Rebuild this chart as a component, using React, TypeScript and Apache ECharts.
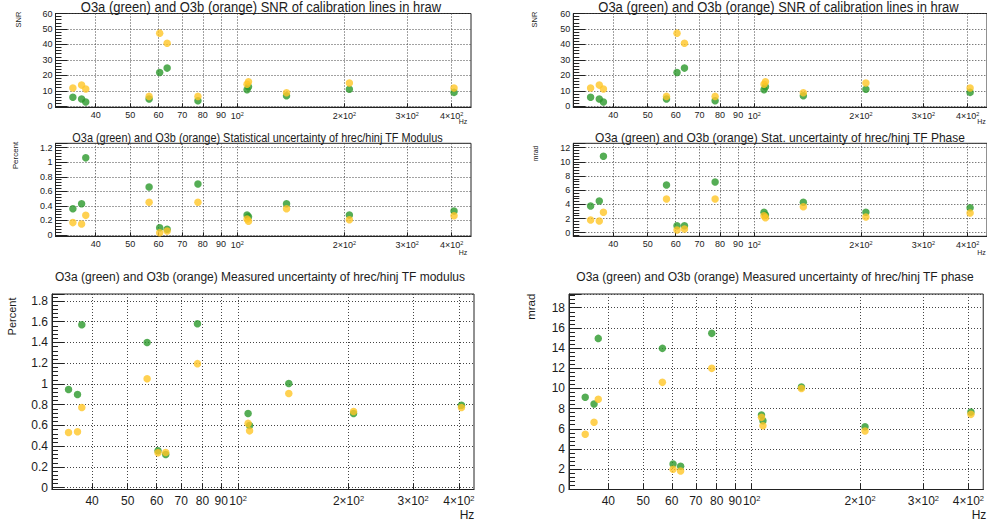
import React, { useEffect, useRef } from 'react';
import * as echarts from 'echarts';

// Calibration line frequencies (Hz)
const freqs = [34.5, 36.5, 37.5, 56.5, 60.5, 63.5, 77.5, 106.5, 107.5, 137.5, 206.5, 406.5];

// SNR of calibration lines in hraw
const snrO3a = [5.8, 4.7, 2.8, 4.7, 21.9, 24.7, 3.6, 10.7, 12.6, 6.8, 11.0, 9.0];
const snrO3b = [11.8, 13.7, 11.2, 6.4, 47.3, 40.8, 6.4, 14.2, 15.9, 8.8, 15.0, 11.8];

// Statistical uncertainty of hrec/hinj TF modulus (Percent)
const statModO3a = [0.36, 0.43, 1.06, 0.66, 0.1, 0.08, 0.7, 0.275, 0.25, 0.43, 0.275, 0.33];
const statModO3b = [0.17, 0.15, 0.27, 0.45, 0.03, 0.055, 0.45, 0.22, 0.19, 0.36, 0.21, 0.265];

// Stat. uncertainty of hrec/hinj TF phase (mrad)
const statPhaseO3a = [3.77, 4.48, 10.8, 6.73, 0.99, 0.99, 7.16, 2.88, 2.5, 4.29, 2.88, 3.53];
const statPhaseO3b = [1.8, 1.65, 2.88, 4.76, 0.38, 0.52, 4.76, 2.4, 2.12, 3.67, 2.22, 2.78];

// Measured uncertainty of hrec/hinj TF modulus (Percent)
const measModO3a = [0.946, 0.898, 1.57, 1.4, 0.356, 0.32, 1.58, 0.715, 0.6, 1.004, 0.715, 0.795];
const measModO3b = [0.533, 0.54, 0.773, 1.05, 0.337, 0.34, 1.196, 0.62, 0.548, 0.908, 0.735, 0.773];

// Measured uncertainty of hrec/hinj TF phase (mrad)
const measPhaseO3a = [9.12, 8.45, 14.96, 13.97, 2.51, 2.28, 15.46, 7.36, 6.8, 10.14, 6.2, 7.66];
const measPhaseO3b = [5.45, 6.64, 8.92, 10.6, 1.98, 1.81, 11.99, 7.13, 6.3, 10.0, 5.78, 7.43];

// x tick values (log axis)
const xTickValues = [40, 50, 60, 70, 80, 90, 100, 200, 300, 400];

const titles = [
  'O3a (green) and O3b (orange) SNR of calibration lines in hraw',
  'O3a (green) and O3b (orange) SNR of calibration lines in hraw',
  'O3a (green) and O3b (orange) Statistical uncertainty of hrec/hinj TF Modulus',
  'O3a (green) and O3b (orange) Stat. uncertainty of hrec/hinj TF Phase',
  'O3a (green) and O3b (orange) Measured uncertainty of hrec/hinj TF modulus',
  'O3a (green) and O3b (orange) Measured uncertainty of hrec/hinj TF phase',
];
const yNames = ['SNR', 'SNR', 'Percent', 'mrad', 'Percent', 'mrad'];

const GREEN = '#2b982b';
const ORANGE = '#ffc526';
const FONT = "'Liberation Sans', Arial, Helvetica, sans-serif";
const INK = '#1c1c1c';

type Panel = {
  left: number; top: number; width: number; height: number;
  xMin: number; xMax: number; yMin: number; yMax: number; split: number; showMax: boolean;
  big: boolean; g: number[]; o: number[];
  titleX: number; titleY: number; titleSize: number; titleScaleY: number;
  nameX: number; nameY: number; nameSize: number;
  hzX: number; hzY: number;
};

const panels: Panel[] = [
  { left: 55.5, top: 13.5, width: 415.5, height: 93.8, xMin: 30.83, xMax: 453.7, yMin: -0.65, yMax: 60, split: 6, showMax: true, big: false, g: snrO3a, o: snrO3b,
    titleX: 261, titleY: 7.5, titleSize: 13, titleScaleY: 1.12, nameX: 18, nameY: 19.5, nameSize: 7.5, hzX: 463, hzY: 121.7 },
  { left: 573.3, top: 13.5, width: 415.5, height: 93.8, xMin: 30.83, xMax: 453.7, yMin: -0.65, yMax: 60, split: 6, showMax: true, big: false, g: snrO3a, o: snrO3b,
    titleX: 778.5, titleY: 7.5, titleSize: 13, titleScaleY: 1.12, nameX: 534.5, nameY: 19.5, nameSize: 7.5, hzX: 981.5, hzY: 121.5 },
  { left: 55.5, top: 143.3, width: 415.5, height: 93, xMin: 30.83, xMax: 453.7, yMin: -0.018, yMax: 1.26, split: 6, showMax: false, big: false, g: statModO3a, o: statModO3b,
    titleX: 257.5, titleY: 137.5, titleSize: 10.9, titleScaleY: 1.25, nameX: 15.7, nameY: 155.5, nameSize: 8, hzX: 463, hzY: 252 },
  { left: 573.3, top: 143.3, width: 415.5, height: 93, xMin: 30.83, xMax: 453.7, yMin: -0.51, yMax: 12.62, split: 6, showMax: false, big: false, g: statPhaseO3a, o: statPhaseO3b,
    titleX: 780, titleY: 137.5, titleSize: 12, titleScaleY: 1.12, nameX: 535, nameY: 153.5, nameSize: 6.8, hzX: 981.5, hzY: 252.3 },
  { left: 52, top: 294, width: 422, height: 195.5, xMin: 31.1, xMax: 439.8, yMin: -0.017, yMax: 1.867, split: 9, showMax: false, big: true, g: measModO3a, o: measModO3b,
    titleX: 260, titleY: 276.7, titleSize: 12, titleScaleY: 1, nameX: 11.7, nameY: 316.5, nameSize: 11, hzX: 467, hzY: 515 },
  { left: 569, top: 294, width: 422, height: 195.5, xMin: 31.1, xMax: 439.8, yMin: -0.02, yMax: 19.36, split: 9, showMax: false, big: true, g: measPhaseO3a, o: measPhaseO3b,
    titleX: 775, titleY: 276.7, titleSize: 12, titleScaleY: 1, nameX: 530.7, nameY: 306.7, nameSize: 11.5, hzX: 979, hzY: 515 },
];

function xLabel(v: number): string {
  const r = Math.round(v);
  if (r === 100) return '{n|10}{s|2}';
  if (r >= 200) return `{n|${Math.round(r / 100)}\u00d710}{s|2}`;
  return `{n|${r}}`;
}

export default function App() {
  const ref = useRef<HTMLDivElement>(null);

  useEffect(() => {
    if (!ref.current) return;
    const chart = echarts.init(ref.current, null, { renderer: 'svg' });

    const dotted = { type: [1, 2] as number[], color: '#444', width: 1 };

    const grid = panels.map((p) => ({
      left: p.left, top: p.top, width: p.width, height: p.height,
      show: true, borderColor: '#222', borderWidth: 1, backgroundColor: 'transparent', containLabel: false,
    }));

    const xAxis = panels.map((p, i) => {
      const fs = p.big ? 12 : 9;
      const ss = p.big ? 7.5 : 5.5;
      return {
        type: 'log', logBase: 10, gridIndex: i, min: p.xMin, max: p.xMax,
        axisLine: { show: true, onZero: false, lineStyle: { color: '#222', width: 1 } },
        axisTick: { show: true, inside: true, length: p.big ? 6 : 4, customValues: xTickValues, lineStyle: { color: '#222' } },
        minorTick: { show: false },
        axisLabel: {
          customValues: xTickValues,
          formatter: xLabel,
          margin: p.big ? 5 : 3.5,
          color: INK, fontFamily: FONT, fontSize: fs,
          rich: {
            n: { fontSize: fs, color: INK, fontFamily: FONT },
            s: { fontSize: ss, color: INK, fontFamily: FONT, verticalAlign: 'top', padding: [0, 0, fs * 0.45, 0] },
          },
        },
        splitLine: { show: true, lineStyle: dotted },
      };
    });

    const yAxis = panels.map((p, i) => ({
      type: 'value', gridIndex: i, min: p.yMin, max: p.yMax, splitNumber: p.split,
      axisLine: { show: true, onZero: false, lineStyle: { color: '#222', width: 1 } },
      axisTick: { show: true, inside: true, length: 12, lineStyle: { color: '#222' } },
      minorTick: { show: true, splitNumber: 5, length: 6, lineStyle: { color: '#222' } },
      axisLabel: {
        showMinLabel: false, showMaxLabel: p.showMax,
        margin: p.big ? 4 : 3, color: INK, fontFamily: FONT, fontSize: p.big ? 12 : 9,
      },
      splitLine: { show: true, lineStyle: dotted },
    }));

    const series: any[] = [];
    panels.forEach((p, i) => {
      series.push({
        type: 'scatter', xAxisIndex: i, yAxisIndex: i, symbol: 'circle', symbolSize: 7.5,
        itemStyle: { color: GREEN }, silent: true,
        data: freqs.map((f, k) => [f, p.g[k]]),
      });
      series.push({
        type: 'scatter', xAxisIndex: i, yAxisIndex: i, symbol: 'circle', symbolSize: 7.5,
        itemStyle: { color: ORANGE }, silent: true,
        data: freqs.map((f, k) => [f, p.o[k]]),
      });
    });

    const graphic: any[] = [];
    panels.forEach((p, i) => {
      graphic.push({
        type: 'text', x: p.titleX, y: p.titleY, scaleY: p.titleScaleY, z: 100,
        style: { text: titles[i], fontSize: p.titleSize, fontFamily: FONT, fill: INK, align: 'center', verticalAlign: 'middle' },
      });
      graphic.push({
        type: 'text', x: p.nameX, y: p.nameY, rotation: Math.PI / 2, z: 100,
        style: { text: yNames[i], fontSize: p.nameSize, fontFamily: FONT, fill: INK, align: 'center', verticalAlign: 'middle' },
      });
      graphic.push({
        type: 'text', x: p.hzX, y: p.hzY, z: 100,
        style: { text: 'Hz', fontSize: p.big ? 12 : 7, fontFamily: FONT, fill: INK, align: 'center', verticalAlign: 'middle' },
      });
    });

    chart.setOption({
      animation: false,
      backgroundColor: '#ffffff',
      grid, xAxis, yAxis, series, graphic,
    } as any);

    return () => chart.dispose();
  }, []);

  return (
    <div
      ref={ref}
      style={{ position: 'fixed', left: 0, top: 0, width: 987, height: 523, background: '#fff', overflow: 'hidden' }}
    />
  );
}
